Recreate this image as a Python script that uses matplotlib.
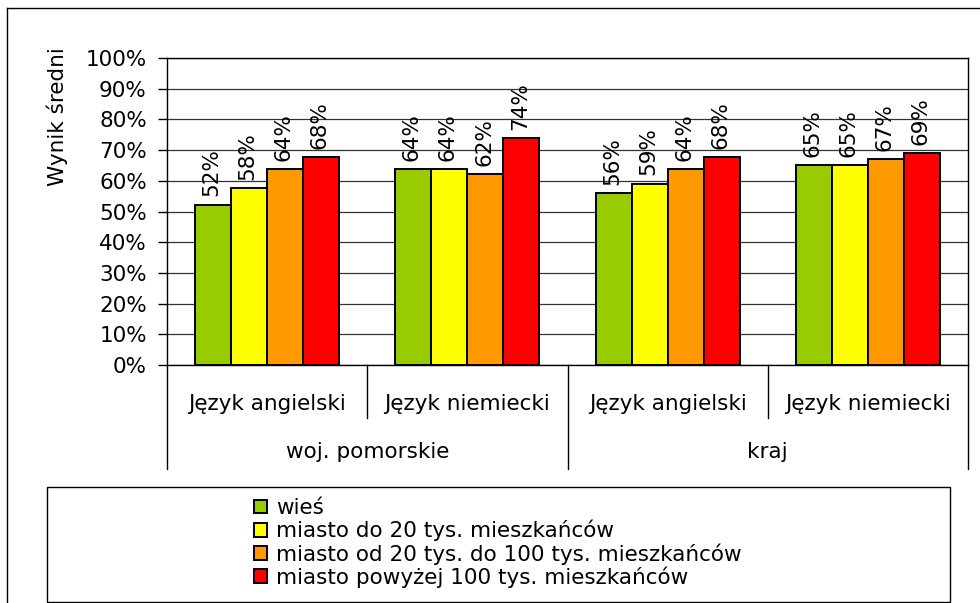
import numpy as np
import matplotlib
matplotlib.use("Agg")
import matplotlib.pyplot as plt
from matplotlib.patches import Rectangle
from matplotlib.lines import Line2D

# DATA
subjects = ["Język angielski", "Język niemiecki", "Język angielski", "Język niemiecki"]
regions = ["woj. pomorskie", "kraj"]
series_names = ["wieś",
                "miasto do 20 tys. mieszkańców",
                "miasto od 20 tys. do 100 tys. mieszkańców",
                "miasto powyżej 100 tys. mieszkańców"]
wies = [52.2, 63.8, 55.9, 65.1]
miasto_do20 = [57.7, 63.8, 59.1, 65.1]
miasto_20_100 = [63.8, 62.1, 63.8, 67.0]
miasto_100 = [67.6, 73.9, 67.6, 68.9]
labels = [[52, 64, 56, 65], [58, 64, 59, 65], [64, 62, 64, 67], [68, 74, 68, 69]]
colors = ["#99CC00", "#FFFF00", "#FF9900", "#FF0000"]

W, H = 980, 603
FS = 15.5
fig = plt.figure(figsize=(W / 100, H / 100), dpi=100)

def fx(px):
    return px / W

def fy(py):
    return 1 - py / H

ax = fig.add_axes([fx(167), fy(365), fx(968) - fx(167), fy(58) - fy(365)])

x = np.arange(len(subjects))
bw = 0.18
series = [wies, miasto_do20, miasto_20_100, miasto_100]
bars = []
for i, vals in enumerate(series):
    b = ax.bar(x + (i - 1.5) * bw, vals, bw, color=colors[i],
               edgecolor="black", linewidth=1.4, zorder=3, label=series_names[i])
    bars.append(b)
    for rect, lab in zip(b, labels[i]):
        ax.annotate(f"{lab}%", (rect.get_x() + rect.get_width() / 2, rect.get_height()),
                    xytext=(-1, 6), textcoords="offset points", rotation=90,
                    ha="center", va="bottom", fontsize=FS, zorder=4)

ax.set_xlim(-0.5, 3.5)
ax.set_ylim(0, 100)
ax.set_yticks(np.arange(0, 101, 10))
ax.set_yticklabels([f"{v}%" for v in range(0, 101, 10)], fontsize=FS)
ax.yaxis.grid(True, color="#333333", linewidth=0.9, zorder=0)
ax.tick_params(axis="y", direction="out", length=6.5, width=1, pad=8)
ax.set_xticks(x)
ax.set_xticklabels(subjects, fontsize=FS)
ax.tick_params(axis="x", length=0, pad=21)
for s in ax.spines.values():
    s.set_color("black")
    s.set_linewidth(1)

# category dividers below the axis
tr = ax.get_xaxis_transform()
short_y = -(418 - 365) / 307
tall_y = -(469 - 365) / 307
for xb in [0.5, 2.5]:
    ax.plot([xb, xb], [0, short_y], color="black", lw=1, transform=tr, clip_on=False)
for xb in [-0.5, 1.5, 3.5]:
    ax.plot([xb, xb], [0, tall_y], color="black", lw=1, transform=tr, clip_on=False)
for k, reg in enumerate(regions):
    ax.text(2 * k + 0.5, -(452 - 365) / 307, reg, transform=tr,
            ha="center", va="center", fontsize=FS)

fig.text(fx(57), fy(117), "Wynik średni", rotation=90, ha="center", va="center", fontsize=FS)

# outer chart border
fig.add_artist(Line2D([fx(7), 1], [fy(8), fy(8)], color="black", lw=1))
fig.add_artist(Line2D([fx(7), fx(7)], [fy(8), 0], color="black", lw=1))

# legend box
fig.add_artist(Rectangle((fx(47), fy(602)), fx(950) - fx(47), fy(487) - fy(602),
                         fill=False, edgecolor="black", lw=1))
fig.legend(handles=bars, labels=series_names, loc="center",
           bbox_to_anchor=(fx(498), fy(543)), frameon=False, fontsize=FS,
           handlelength=0.6, handleheight=0.6, handletextpad=0.4,
           labelspacing=0.08, borderpad=0)

fig.savefig("out.png", dpi=100, facecolor="white")
